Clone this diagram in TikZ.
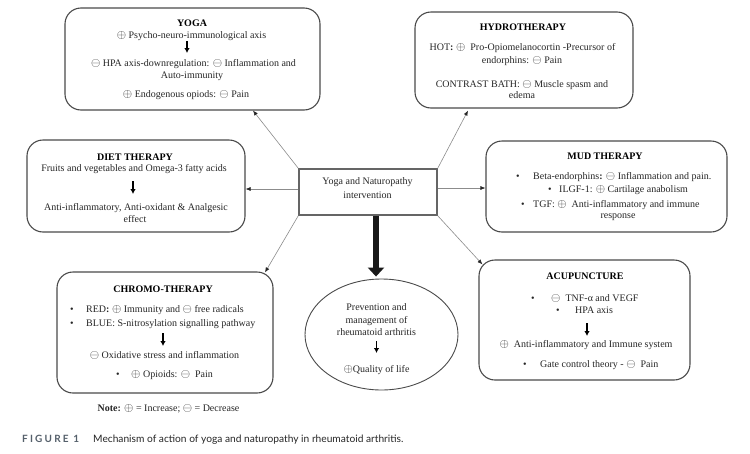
\documentclass[tikz,border=0pt]{standalone}
\usepackage{fontspec}
\setmainfont{Liberation Serif}
\newfontfamily\capfont{Lato}
\usetikzlibrary{arrows.meta,shapes.geometric,calc}
\definecolor{boxc}{HTML}{4A4A4A}
\definecolor{txt}{HTML}{262626}
\definecolor{connc}{HTML}{8C8C8C}
\definecolor{figc}{HTML}{55606B}
\newcommand\OPl{{\fontsize{11.5}{11.5}\selectfont$\oplus$}}
\newcommand\OMi{{\fontsize{11.5}{11.5}\selectfont$\ominus$}}
\begin{document}
\begin{tikzpicture}[x=1pt,y=-1pt,
  rbox/.style={draw=boxc, line width=1.1pt, rounded corners=16pt, inner sep=0pt},
  t/.style={anchor=base, inner sep=0pt, text=txt, font=\fontsize{10}{12}\selectfont},
  tw/.style={t, anchor=base west},
  ti/.style={anchor=base, inner sep=0pt, text=black, font=\fontsize{10}{12}\selectfont\bfseries},
  sarr/.style={-{Latex[length=5pt,width=5.5pt]}, line width=1.9pt, black},
  conn/.style={draw=connc, line width=0.6pt, -{Latex[length=5pt,width=4pt,color=black!85]}}
]
\useasboundingbox (0,0) rectangle (750,453);
\fill[white] (0,0) rectangle (750,453);

% boxes
\node[rbox, minimum width=255pt, minimum height=102pt] (yoga) at (192.5,59) {};
\node[rbox, minimum width=218pt, minimum height=96pt] (hydro) at (524,60) {};
\node[rbox, minimum width=218pt, minimum height=92pt] (diet) at (136,186) {};
\node[rbox, minimum width=241pt, minimum height=91pt] (mud) at (606.5,186.5) {};
\node[rbox, minimum width=216pt, minimum height=121pt] (chromo) at (165,332.5) {};
\node[rbox, minimum width=211pt, minimum height=120pt] (acup) at (584.5,320) {};
\node[draw=boxc!85, line width=1.4pt, minimum width=138pt, minimum height=46pt, inner sep=0pt] (cbox) at (368,192) {};
\node[draw=boxc, line width=0.9pt, ellipse, minimum width=153pt, minimum height=111pt, inner sep=0pt] (ell) at (381.5,334.5) {};

% connectors
\draw[conn] (cbox.north west) -- ([xshift=60.5pt]yoga.south);
\draw[conn] (cbox.north east) -- ([xshift=-56pt,yshift=-2pt]hydro.south);
\draw[conn] ([yshift=3pt]cbox.west) -- ([yshift=3pt]cbox.west -| diet.east);
\draw[conn] ([yshift=4pt]cbox.east) -- ([yshift=4pt]cbox.east -| mud.west);
\draw[conn] (cbox.south west) -- ([xshift=100pt,yshift=-1pt]chromo.north);
\draw[conn] (cbox.south east) -- ([xshift=4pt,yshift=-5pt]acup.north west);
\draw[line width=6.5pt, black!90, -{Triangle[length=9pt,width=16pt]}, shorten >=2pt]
  ([xshift=8pt]cbox.south) -- ([xshift=8pt]cbox.south |- ell.north);

% YOGA
\node[ti] (yT) at (192,26.5) {YOGA};
\node[t] (y1) at (191.5,38.5) {\OPl{} Psycho-neuro-immunological axis};
\coordinate (ya1) at (187,41);
\coordinate (ya2) at (187,53);
\draw[sarr] (ya1) -- (ya2);
\node[t] (y2) at (193.5,66.5) {\OMi{} HPA axis-downregulation: \OMi{} Inflammation and};
\node[t] (y3) at (192,78.5) {Auto-immunity};
\node[t] (y4) at (186,97.5) {\OPl{} Endogenous opiods: \OMi{} Pain};

% HYDROTHERAPY
\node[ti] (hT) at (523,30.5) {HYDROTHERAPY};
\node[t] (h1) at (522.5,50) {HOT\textbf{:} \OPl\ \ Pro-Opiomelanocortin -Precursor of};
\node[t] (h2) at (522,63.5) {endorphins: \OMi{} Pain};
\node[t] (h3) at (522,87) {CONTRAST BATH: \OMi{} Muscle spasm and};
\node[t] (h4) at (522,98.5) {edema};

% DIET THERAPY
\node[ti] (dT) at (135,160) {DIET THERAPY};
\node[t] (d1) at (134,171) {Fruits and vegetables and Omega-3 fatty acids};
\coordinate (da1) at (133,181);
\coordinate (da2) at (133,194);
\draw[sarr] (da1) -- (da2);
\node[t] (d2) at (136,210) {Anti-inflammatory, Anti-oxidant \& Analgesic};
\node[t] (d3) at (135,222) {effect};

% MUD THERAPY
\node[ti] (mT) at (605,159) {MUD THERAPY};
\node[tw] (mb1) at (516,179.5) {•};
\node[tw] (m1) at (533,179.5) {Beta-endorphins\textbf{:} \OMi{} Inflammation and pain.};
\node[tw] (mb2) at (548,192.5) {•};
\node[tw] (m2) at (559,192.5) {ILGF-1: \OPl{} Cartilage anabolism};
\node[tw] (mb3) at (521,207) {•};
\node[tw] (m3) at (533,207) {TGF: \OPl\ \ Anti-inflammatory and immune};
\node[t] (m4) at (618,218.5) {response};

% CHROMO-THERAPY
\node[ti] (cT) at (163,292) {CHROMO-THERAPY};
\node[tw] (cb1) at (70,312) {•};
\node[tw] (c1) at (86,312) {RED\textbf{:} \OPl{} Immunity and \OMi{} free radicals};
\node[tw] (cb2) at (70,326) {•};
\node[tw] (c2) at (86,326) {BLUE: S-nitrosylation signalling pathway};
\coordinate (ca1) at (163,333);
\coordinate (ca2) at (163,346);
\draw[sarr] (ca1) -- (ca2);
\node[t] (c3) at (164.5,358.5) {\OMi{} Oxidative stress and inflammation};
\node[tw] (cb4) at (116,377) {•};
\node[tw] (c4) at (131,377) {\OPl{} Opioids: \OMi{} \ Pain};
\node[t] (note) at (168.5,411) {\textbf{Note:} \OPl{} = Increase; \OMi{} = Decrease};

% ACUPUNCTURE
\node[ti] (aT) at (585,279) {ACUPUNCTURE};
\node[tw] (ab1) at (531,301) {•};
\node[tw] (a1) at (551,301) {\OMi{} \ TNF-α and VEGF};
\node[tw] (ab2) at (556,313.5) {•};
\node[tw] (a2) at (575,313.5) {HPA axis};
\coordinate (aa1) at (587,323);
\coordinate (aa2) at (587,336);
\draw[sarr] (aa1) -- (aa2);
\node[t] (a3) at (586,347) {\OPl\ \ Anti-inflammatory and Immune system};
\node[tw] (ab4) at (523,367) {•};
\node[tw] (a4) at (540,367) {Gate control theory - \OMi{} \ Pain};

% centre
\node[t] (cc1) at (367.5,184.5) {Yoga and Naturopathy};
\node[t] (cc2) at (367.5,198.5) {intervention};

% ellipse text
\node[t] (e1) at (376.5,310) {Prevention and};
\node[t] (e2) at (376.5,323) {management of};
\node[t] (e3) at (376.5,335) {rheumatoid arthritis};
\coordinate (ea1) at (376.5,341);
\coordinate (ea2) at (376.5,353);
\draw[sarr] (ea1) -- (ea2);
\node[t] (e4) at (376.5,372) {\OPl{}Quality of life};

% caption
\node[anchor=base west, inner sep=0pt, text=figc, font=\capfont\fontsize{10}{12}\selectfont\bfseries\addfontfeature{LetterSpace=22}] (figl) at (22,442) {FIGURE 1};
\node[anchor=base west, inner sep=0pt, text=black!85, font=\capfont\fontsize{10.2}{12}\selectfont] (figt) at (93,442) {Mechanism of action of yoga and naturopathy in rheumatoid arthritis.};
\end{tikzpicture}
\end{document}
